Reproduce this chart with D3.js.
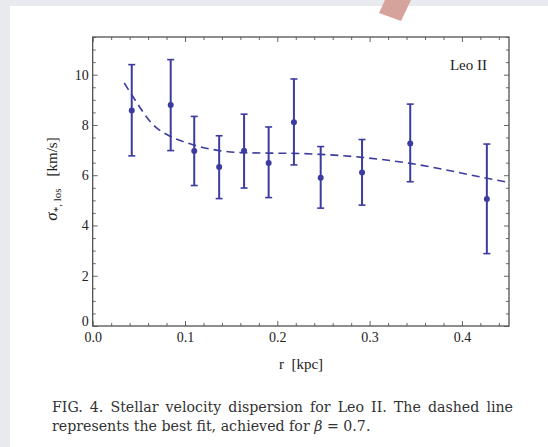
<!DOCTYPE html>
<html>
<head>
<meta charset="utf-8">
<script src="https://cdn.jsdelivr.net/npm/d3@7"></script>
<style>
  body { margin: 0; }
  .frame path.domain { display: none; }
</style>
</head>
<body>
<script>
// measured points (r in kpc, sigma in km/s)
var radius  = [0.0423, 0.0845, 0.110, 0.137, 0.164, 0.1906, 0.218, 0.247, 0.2918, 0.344, 0.427];
var sigma   = [8.58, 8.79, 6.96, 6.33, 6.97, 6.49, 8.11, 5.90, 6.11, 7.26, 5.05];
var sigHigh = [10.40, 10.60, 8.34, 7.57, 8.43, 7.92, 9.83, 7.14, 7.42, 8.83, 7.24];
var sigLow  = [6.77, 6.98, 5.59, 5.07, 5.49, 5.11, 6.41, 4.69, 4.81, 5.74, 2.88];

// best fit, beta = 0.7
var fitR     = [0.0342, 0.0423, 0.0657, 0.0845, 0.1054, 0.137, 0.16, 0.19, 0.218, 0.247, 0.292, 0.344, 0.427, 0.451];
var fitSigma = [9.67, 9.2, 8.0, 7.54, 7.25, 6.98, 6.9, 6.88, 6.87, 6.83, 6.71, 6.47, 5.88, 5.71];

var xMajor = [0, 0.1, 0.2, 0.3, 0.4];
var yMajor = [0, 2, 4, 6, 8, 10];

var W = 548, H = 447;
var blue = "#3c3ca0";
var serif = "'Liberation Serif', 'Times New Roman', serif";

var svg = d3.select("body").append("svg")
  .attr("width", W).attr("height", H)
  .style("font-family", serif);

// page background
svg.append("rect").attr("width", W).attr("height", H).attr("fill", "#e9eaed");
svg.append("rect").attr("x", 10).attr("y", 6).attr("width", W - 10).attr("height", H - 6).attr("fill", "#fff");
svg.append("polygon")
  .attr("points", "385,0 411,0 401,21 379,13")
  .attr("fill", "#d5a29c");

var x = d3.scaleLinear().domain([0, 0.451]).range([92.7, 509]);
var y = d3.scaleLinear().domain([0, 11.5]).range([326, 37]);

var xMinor = d3.range(0, 0.451, 0.02).filter(function(v){ return Math.abs(v*10 - Math.round(v*10)) > 1e-6; });
var yMinor = d3.range(0, 11.51, 0.5).filter(function(v){ return v % 2 !== 0; });

function ticks(axis, vals, len, labels) {
  return axis.tickValues(vals).tickSizeInner(-len).tickSizeOuter(0)
    .tickFormat(labels ? labels : "");
}

var g = svg.append("g");

// frame
g.append("rect")
  .attr("x", x(0)).attr("y", y(11.5))
  .attr("width", x(0.451) - x(0)).attr("height", y(0) - y(11.5))
  .attr("fill", "none").attr("stroke", "#444").attr("stroke-width", 1.2);

function addAxis(gen, tr) {
  var a = g.append("g").attr("class", "frame").attr("transform", tr).call(gen);
  a.attr("font-family", null);
  a.selectAll("line").attr("stroke", "#555").attr("stroke-width", 0.9);
  a.selectAll("text").attr("fill", "#222")
    .style("font-family", serif).style("font-size", "14px");
  return a;
}

var xb = addAxis(ticks(d3.axisBottom(x), xMajor, 5, d3.format(".1f")), "translate(0," + y(0) + ")");
xb.selectAll("text").attr("dy", "0.95em").attr("y", 3);
addAxis(ticks(d3.axisBottom(x), xMinor, 3), "translate(0," + y(0) + ")");
addAxis(ticks(d3.axisTop(x), xMajor, 5), "translate(0," + y(11.5) + ")");
addAxis(ticks(d3.axisTop(x), xMinor, 3), "translate(0," + y(11.5) + ")");

var yl = addAxis(ticks(d3.axisLeft(y), yMajor, 5, d3.format("d")), "translate(" + x(0) + ",0)");
yl.selectAll("text").attr("x", -4);
yl.selectAll("text").filter(function(d){ return d === 0; }).attr("dy", "-0.05em");
addAxis(ticks(d3.axisLeft(y), yMinor, 3), "translate(" + x(0) + ",0)");
addAxis(ticks(d3.axisRight(y), yMajor, 5), "translate(" + x(0.451) + ",0)");
addAxis(ticks(d3.axisRight(y), yMinor, 3), "translate(" + x(0.451) + ",0)");

// fit line
var fitLine = d3.line()
  .x(function(d, i){ return x(fitR[i]); })
  .y(function(d){ return y(d); })
  .curve(d3.curveMonotoneX);

g.append("path")
  .attr("d", fitLine(fitSigma))
  .attr("fill", "none").attr("stroke", blue)
  .attr("stroke-width", 1.6).attr("stroke-dasharray", "8,5");

// error bars
var bars = g.selectAll(".bar").data(radius).enter().append("g");
bars.append("line")
  .attr("x1", function(d){ return x(d); }).attr("x2", function(d){ return x(d); })
  .attr("y1", function(d, i){ return y(sigHigh[i]); })
  .attr("y2", function(d, i){ return y(sigLow[i]); })
  .attr("stroke", blue).attr("stroke-width", 2);
[sigHigh, sigLow].forEach(function(arr) {
  bars.append("line")
    .attr("x1", function(d){ return x(d) - 3.5; }).attr("x2", function(d){ return x(d) + 3.5; })
    .attr("y1", function(d, i){ return y(arr[i]); })
    .attr("y2", function(d, i){ return y(arr[i]); })
    .attr("stroke", blue).attr("stroke-width", 1.6);
});
bars.append("circle")
  .attr("cx", function(d){ return x(d); })
  .attr("cy", function(d, i){ return y(sigma[i]); })
  .attr("r", 3).attr("fill", blue);

// labels
svg.append("text").attr("x", 487).attr("y", 70).attr("text-anchor", "end")
  .style("font-size", "15px").attr("fill", "#222").text("Leo II");

svg.append("text").attr("x", 301).attr("y", 369).attr("text-anchor", "middle")
  .style("font-size", "15px").attr("fill", "#222").text("r  [kpc]")
  .style("white-space", "pre");

var ylab = svg.append("text")
  .attr("transform", "translate(57,179) rotate(-90)")
  .attr("text-anchor", "middle")
  .style("font-size", "15px").attr("fill", "#222");
ylab.append("tspan").style("font-style", "italic").style("font-size", "17px").text("σ");
ylab.append("tspan").attr("dy", 4).style("font-size", "11px").text("*, los");
ylab.append("tspan").attr("dy", -4).attr("dx", 12).text("[km/s]");

// caption, first line justified like the paper
var cap = svg.append("g").style("font-family", "'DejaVu Serif', serif")
  .style("font-size", "14.2px").attr("fill", "#333");
var c1 = cap.append("text").attr("x", 52).attr("y", 412)
  .text("FIG. 4. Stellar velocity dispersion for Leo II. The dashed line");
var natural = c1.node().getComputedTextLength();
var spaces = c1.text().split(" ").length - 1;
c1.style("word-spacing", ((461 - natural) / spaces) + "px");
var c2 = cap.append("text").attr("x", 52).attr("y", 431);
c2.append("tspan").text("represents the best fit, achieved for ");
c2.append("tspan").style("font-style", "italic").text("β");
c2.append("tspan").text(" = 0.7.");
</script>
</body>
</html>
